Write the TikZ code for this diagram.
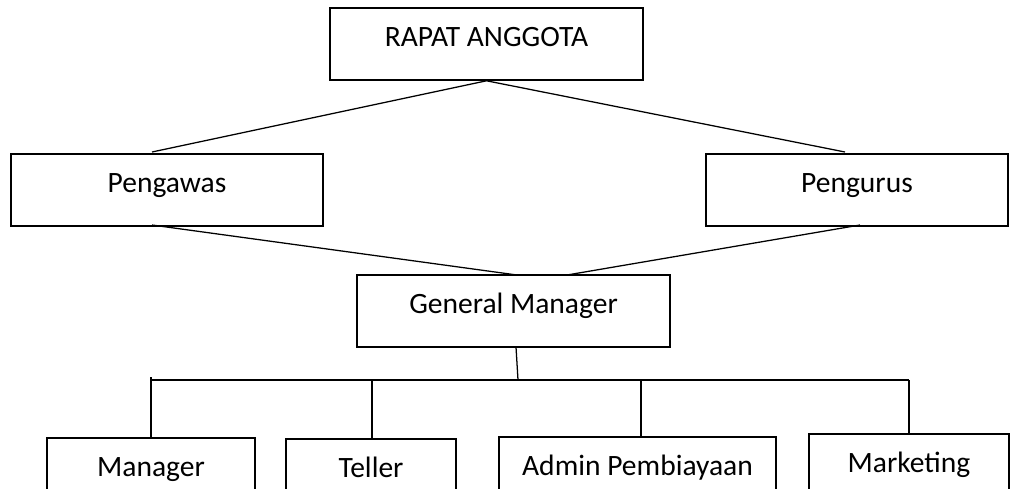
\documentclass[tikz,border=0pt]{standalone}
\usepackage{fontspec}
\setmainfont{Carlito}
\begin{document}
\begin{tikzpicture}[x=0.025cm,y=-0.025cm,
  box/.style={draw, line width=1.1pt, rectangle, inner sep=0pt, minimum height=1.8cm,
    text height=14pt, text depth=10pt, font=\fontsize{21}{25}\selectfont},
  link/.style={line width=0.9pt}]
\useasboundingbox (0,0) rectangle (1010,488);
\clip (0,0) rectangle (1010,488);
\node[box, minimum width=7.82cm] (rapat) at (486.5,44){RAPAT ANGGOTA};
\node[box, minimum width=7.8cm] (pengawas) at (167,190){Pengawas};
\node[box, minimum width=7.55cm] (pengurus) at (857,190){Pengurus};
\node[box, minimum width=7.82cm] (gm) at (513.5,311){General Manager};
\node[box, minimum width=5.2cm] (manager) at (151,474){Manager};
\node[box, minimum width=4.25cm] (teller) at (371,475){Teller};
\node[box, minimum width=6.92cm] (admin) at (637.5,473){Admin Pembiayaan};
\node[box, minimum width=5cm] (marketing) at (909,470){Marketing};
\coordinate (pwtop) at (152,152);
\coordinate (pgtop) at (845,152);
\coordinate (pwbot) at (152,225);
\coordinate (pgbot) at (860,225);
\coordinate (gmtl) at (517,275);
\coordinate (gmtr) at (567,275);
\coordinate (gmbot) at (516,347);
\coordinate (barmid) at (518,380);
\coordinate (barl) at (151,380);
\coordinate (barr) at (909,380);
\coordinate (bart) at (372,380);
\coordinate (bara) at (641,380);
\draw[link](rapat.south) -- (pwtop);
\draw[link](rapat.south) -- (pgtop);
\draw[link](pwbot) -- (gmtl);
\draw[link](pgbot) -- (gmtr);
\draw[link](gmbot) -- (barmid);
\draw[link](barl) -- (barr);
\draw[link]([yshift=2pt]barl) -- (manager.north);
\draw[link](bart) -- (bart |- teller.north);
\draw[link](bara) -- (bara |- admin.north);
\draw[link](barr) -- (marketing.north);
\end{tikzpicture}
\end{document}
